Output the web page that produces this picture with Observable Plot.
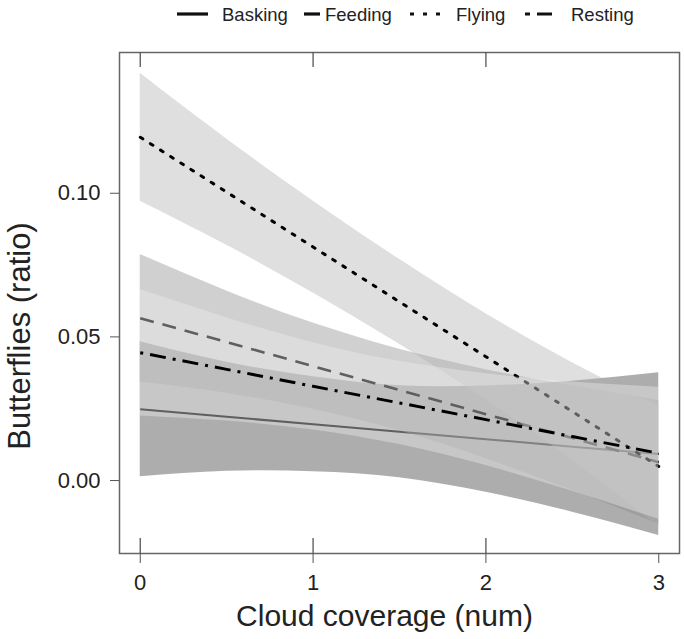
<!DOCTYPE html>
<html><head><meta charset="utf-8">
<script src="https://cdn.jsdelivr.net/npm/d3@7"></script>
<script src="https://cdn.jsdelivr.net/npm/@observablehq/plot@0.6"></script>
<style>
body{margin:0;background:#fff;font-family:"Liberation Sans",Arial,sans-serif;}
#legend,#chart svg{display:block}
</style></head><body>
<svg id="legend" width="685" height="28"></svg>
<div id="chart"></div>
<script>
// ---- data ----
const groups = ["Basking", "Feeding", "Flying", "Resting"];
const cloud = [0, 0.5, 1, 1.5, 2, 2.5, 3];
const xTicks = [0, 1, 2, 3];
const yTicks = [0, 0.05, 0.10];

const baskingFit  = [0.0248, 0.0222, 0.0196, 0.0170, 0.0144, 0.0118, 0.0092];
const baskingLow  = [0.0013, 0.0032, 0.0031, 0.0010, -0.0041, -0.0110, -0.0191];
const baskingHigh = [0.0483, 0.0412, 0.0361, 0.0330, 0.0329, 0.0346, 0.0375];

const feedingFit  = [0.0565, 0.0482, 0.0398, 0.0315, 0.0231, 0.0148, 0.0064];
const feedingLow  = [0.0343, 0.0304, 0.0248, 0.0173, 0.0076, -0.0034, -0.0151];
const feedingHigh = [0.0787, 0.0660, 0.0548, 0.0457, 0.0386, 0.0330, 0.0279];

const flyingFit   = [0.1195, 0.1004, 0.0813, 0.0622, 0.0431, 0.0240, 0.0049];
const flyingLow   = [0.0972, 0.0819, 0.0653, 0.0474, 0.0281, 0.0070, -0.0161];
const flyingHigh  = [0.1418, 0.1189, 0.0973, 0.0770, 0.0581, 0.0410, 0.0259];

const restingFit  = [0.0445, 0.0387, 0.0328, 0.0270, 0.0212, 0.0153, 0.0095];
const restingLow  = [0.0225, 0.0207, 0.0176, 0.0125, 0.0052, -0.0037, -0.0135];
const restingHigh = [0.0665, 0.0567, 0.0480, 0.0415, 0.0372, 0.0343, 0.0325];

// ---- styles ----
const fills = {Basking: "#333333", Feeding: "#898989", Flying: "#afafaf", Resting: "#eeeeee"};
const dash = {Basking: null, Feeding: "14,9", Flying: "3,9", Resting: "3,7,16,7"};
const widths = {Basking: 2, Feeding: 2.6, Flying: 3, Resting: 3};
const caps = {Basking: "butt", Feeding: "butt", Flying: "round", Resting: "butt"};

const series = {
  Basking: [baskingFit, baskingLow, baskingHigh],
  Feeding: [feedingFit, feedingLow, feedingHigh],
  Flying: [flyingFit, flyingLow, flyingHigh],
  Resting: [restingFit, restingLow, restingHigh]
};
const rowsOf = g => cloud.map((c, i) => ({group: g, cloud: c, fit: series[g][0][i], low: series[g][1][i], high: series[g][2][i]}));

const W = 685, H = 611, mT = 24, mB = 86, mL = 119, mR = 6;
const innerH = H - mT - mB;

const marks = [];
for (const g of groups) {
  const rows = rowsOf(g);
  marks.push(Plot.areaY(rows, {x: "cloud", y1: "low", y2: "high", fill: fills[g], fillOpacity: 0.4, curve: "natural"}));
  marks.push(Plot.line(rows, {x: "cloud", y: "fit", stroke: "#000", strokeWidth: widths[g], strokeDasharray: dash[g], strokeLinecap: caps[g]}));
}
marks.push(
  Plot.frame({stroke: "#666", strokeWidth: 1.5}),
  Plot.ruleX(xTicks.slice(0, 3), {stroke: "#555", strokeWidth: 1.3, insetBottom: innerH - 15}),
  Plot.ruleX(xTicks.slice(0, 3), {stroke: "#555", strokeWidth: 1.3, insetTop: innerH - 15}),
  Plot.axisX({ticks: xTicks, tickFormat: d3.format("d"), tickSize: 10, tickPadding: 11, fontSize: 22, label: null, stroke: "#555", fill: "#222"}),
  Plot.axisY({ticks: yTicks, tickFormat: d3.format(".2f"), tickSize: 9, tickPadding: 10, fontSize: 22, label: null, stroke: "#555", fill: "#222"}),
  Plot.text(["Cloud coverage (num)"], {frameAnchor: "bottom", lineAnchor: "middle", textAnchor: "middle", dy: 63, dx: -15, fontSize: 30, fill: "#222"}),
  Plot.text(["Butterflies (ratio)"], {frameAnchor: "left", lineAnchor: "middle", textAnchor: "middle", rotate: -90, dx: -99, dy: 33, fontSize: 31, fill: "#222"})
);

const chart = Plot.plot({
  width: W, height: H,
  marginTop: mT, marginBottom: mB, marginLeft: mL, marginRight: mR,
  style: {fontFamily: "Liberation Sans, Arial, sans-serif", background: "#fff"},
  x: {domain: [-0.12, 3.12]},
  y: {domain: [-0.0254, 0.149]},
  marks
});
document.getElementById("chart").appendChild(chart);

// ---- legend ----
const leg = d3.select("#legend");
const legendItems = [
  {g: "Basking", x1: 177, x2: 208, tx: 222},
  {g: "Feeding", x1: 304, x2: 320, tx: 325},
  {g: "Flying", x1: 410, x2: 441, tx: 456},
  {g: "Resting", x1: 525, x2: 552, tx: 571}
];
const legDash = {Basking: null, Feeding: null, Flying: "4,9", Resting: "5,7,15"};
for (const it of legendItems) {
  leg.append("line").attr("x1", it.x1).attr("x2", it.x2).attr("y1", 14).attr("y2", 14)
    .attr("stroke", "#111").attr("stroke-width", 3.2)
    .attr("stroke-dasharray", legDash[it.g]);
  leg.append("text").attr("x", it.tx).attr("y", 20.5).text(it.g)
    .attr("font-size", 18.5).attr("fill", "#222")
    .attr("font-family", "Liberation Sans, Arial, sans-serif");
}
</script>
</body></html>
